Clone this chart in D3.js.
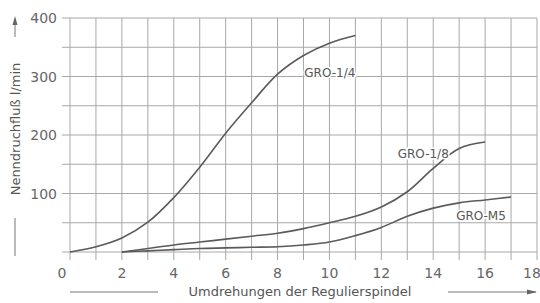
<!DOCTYPE html>
<html>
    <head>
        <script src="https://d3js.org/d3.v7.min.js"></script>
        <style>
            body { margin: 0; background: #fff; }
            text { font-family: "DejaVu Sans", sans-serif; fill: #555; }
            .tick-label { font-size: 14px; fill: #666; }
            .curve-label { font-size: 12px; }
            .axis-title { font-size: 13px; }
        </style>
    </head>
    <body>
        <svg width="540" height="303"></svg>
        <script>
            // x ticks (Umdrehungen) and y ticks (l/min)
            var xTicks = [0, 2, 4, 6, 8, 10, 12, 14, 16, 18];
            var yTicks = [100, 200, 300, 400];

            // GRO-1/4
            var x14 = [0, 1, 2, 3, 4, 5, 6, 7, 8, 9, 10, 11];
            var y14 = [0, 9, 24, 51, 93, 145, 203, 255, 304, 336, 357, 370];
            // GRO-1/8
            var x18 = [2, 3, 4, 5, 6, 7, 8, 9, 10, 11, 12, 13, 14, 15, 16];
            var y18 = [0, 6, 12, 17, 22, 27, 32, 40, 50, 61, 77, 103, 143, 177, 188];
            // GRO-M5
            var xM5 = [2, 3, 4, 5, 6, 7, 8, 9, 10, 11, 12, 13, 14, 15, 16, 17];
            var yM5 = [0, 2, 4, 6, 7, 8, 9, 12, 17, 28, 42, 61, 75, 84, 89, 94];

            var svg = d3.select("svg");

            var x = d3.scaleLinear().domain([0, 18]).range([70, 537]);
            var y = d3.scaleLinear().domain([0, 400]).range([252, 18]);

            var grid = svg.append("g")
                .attr("stroke", "#a8a8a8")
                .attr("stroke-width", 1);

            // vertical grid lines, running down past the zero line as ticks
            grid.selectAll(".vline")
                .data(d3.range(0, 19))
                .enter().append("line")
                .attr("x1", function(d) { return x(d); })
                .attr("x2", function(d) { return x(d); })
                .attr("y1", y(400))
                .attr("y2", y(0) + 8);

            // horizontal grid lines, running left past x=0 as ticks
            grid.selectAll(".hline")
                .data(d3.range(0, 401, 50))
                .enter().append("line")
                .attr("x1", x(0) - 8)
                .attr("x2", x(18))
                .attr("y1", function(d) { return y(d); })
                .attr("y2", function(d) { return y(d); });

            svg.selectAll(".xlab")
                .data(xTicks)
                .enter().append("text")
                .attr("class", "tick-label")
                .attr("x", function(d) { return x(d) + (d === 0 ? -8 : d === 18 ? -5 : 0); })
                .attr("y", 278)
                .attr("text-anchor", "middle")
                .text(function(d) { return d; });

            svg.selectAll(".ylab")
                .data(yTicks)
                .enter().append("text")
                .attr("class", "tick-label")
                .attr("x", 57)
                .attr("y", function(d) { return y(d) + 5; })
                .attr("text-anchor", "end")
                .text(function(d) { return d; });

            var line = d3.line()
                .x(function(d) { return x(d[0]); })
                .y(function(d) { return y(d[1]); })
                .curve(d3.curveCatmullRom.alpha(0.5));

            var series = [
                { name: "GRO-1/4", pts: d3.zip(x14, y14), lx: 11, ly: 300 },
                { name: "GRO-1/8", pts: d3.zip(x18, y18), lx: 14.6, ly: 161 },
                { name: "GRO-M5", pts: d3.zip(xM5, yM5), lx: 16.8, ly: 55 }
            ];

            svg.selectAll(".curve")
                .data(series)
                .enter().append("path")
                .attr("d", function(d) { return line(d.pts); })
                .attr("fill", "none")
                .attr("stroke", "#5a5a5a")
                .attr("stroke-width", 1.6);

            svg.selectAll(".curve-label")
                .data(series)
                .enter().append("text")
                .attr("class", "curve-label")
                .attr("x", function(d) { return x(d.lx); })
                .attr("y", function(d) { return y(d.ly); })
                .attr("text-anchor", "end")
                .attr("paint-order", "stroke")
                .attr("stroke", "#fff")
                .attr("stroke-width", 3)
                .text(function(d) { return d.name; });

            // axis titles with leader lines and arrows
            var ax = svg.append("g").attr("stroke", "#777").attr("stroke-width", 1);

            svg.append("text")
                .attr("class", "axis-title")
                .attr("x", 300)
                .attr("y", 296)
                .attr("text-anchor", "middle")
                .text("Umdrehungen der Regulierspindel");
            ax.append("line").attr("x1", 70).attr("x2", 158).attr("y1", 292).attr("y2", 292);
            ax.append("line").attr("x1", 448).attr("x2", 536).attr("y1", 292).attr("y2", 292);
            svg.append("path")
                .attr("d", "M537,292 L527,289.5 L527,294.5 Z")
                .attr("fill", "#666");

            svg.append("text")
                .attr("class", "axis-title")
                .attr("transform", "translate(20,129) rotate(-90)")
                .attr("text-anchor", "middle")
                .text("Nenndruchfluß  l/min");
            ax.append("line").attr("x1", 15).attr("x2", 15).attr("y1", 218).attr("y2", 256);
            ax.append("line").attr("x1", 15).attr("x2", 15).attr("y1", 22).attr("y2", 37);
            svg.append("path")
                .attr("d", "M15,16 L12.5,25 L17.5,25 Z")
                .attr("fill", "#666");
        </script>
    </body>
</html>
